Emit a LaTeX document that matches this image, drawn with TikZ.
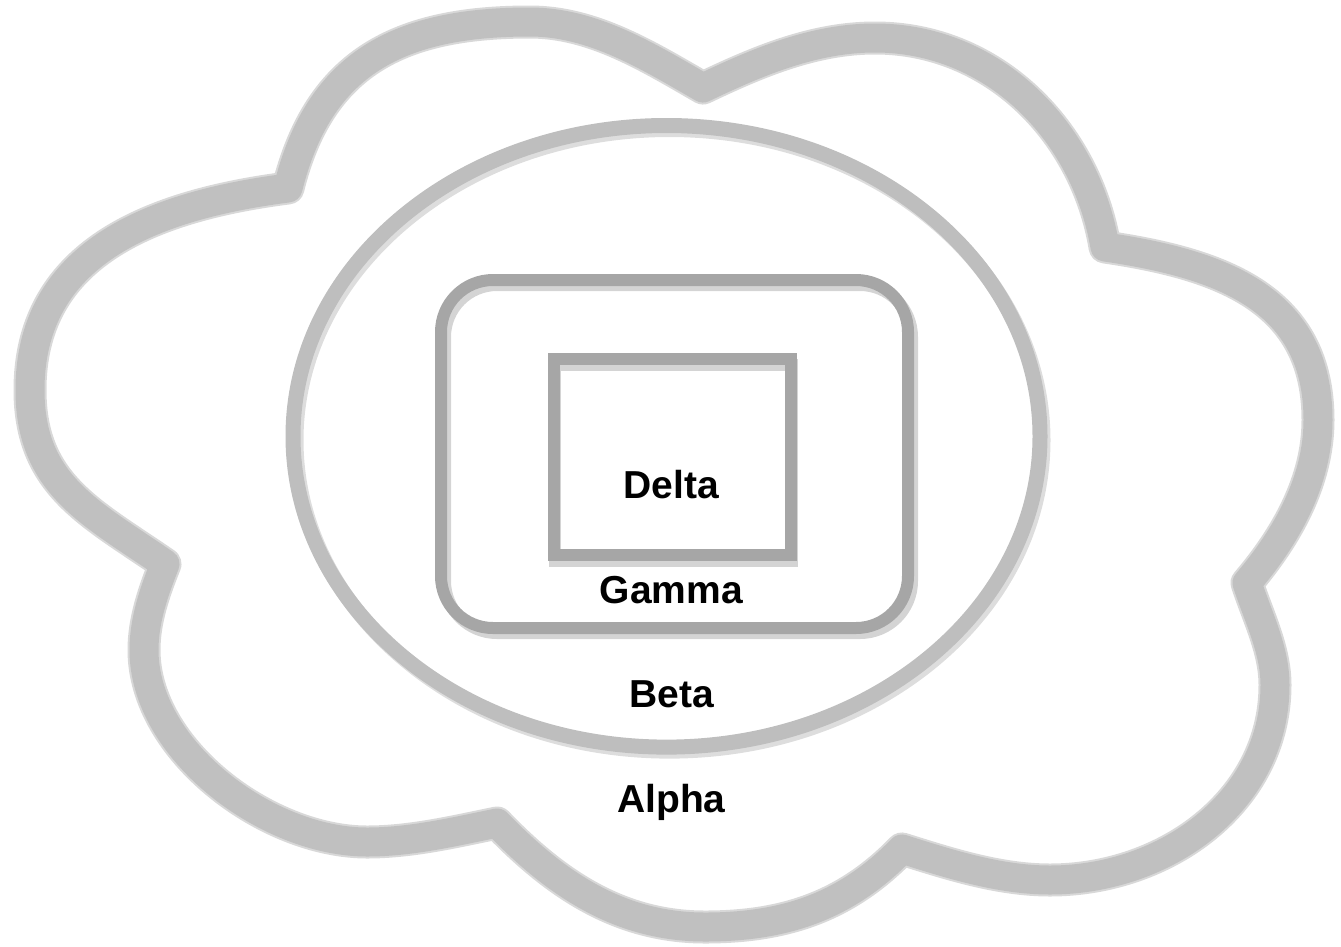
\documentclass[tikz,border=0pt]{standalone}
\usepackage{fontspec}
\setmainfont{Liberation Sans}
\definecolor{cloudgray}{HTML}{C0C0C0}
\definecolor{cloudsoft}{HTML}{D8D8D8}
\definecolor{ringgray}{HTML}{BEBEBE}
\definecolor{ringshade}{HTML}{DDDDDD}
\definecolor{boxgray}{HTML}{A6A6A6}
\definecolor{boxshade}{HTML}{D4D4D4}
\begin{document}
\begin{tikzpicture}[x=1pt, y=-1pt,
  cloudhalo/.style={draw=cloudsoft, line width=33pt, line join=round},
  cloudline/.style={draw=cloudgray, line width=29pt, line join=round},
  ringline/.style={draw=ringgray, line width=15pt},
  ringshadow/.style={draw=ringshade, line width=15pt},
  boxline/.style={draw=boxgray, line width=12pt},
  boxshadow/.style={draw=boxshade, line width=12pt},
  tag/.style={inner sep=0pt, anchor=base, font=\fontsize{39}{41}\selectfont\bfseries}]
\useasboundingbox (0,0) rectangle (1341,946);

% cloud outline: seven lobes meeting at sharp notches
\foreach \st in {cloudhalo, cloudline}
  \draw[\st] (288,188)
    .. controls (319.4,61.9) and (400,22) .. (530,22)
    .. controls (593,22) and (648.4,56.5) .. (703,88)
    .. controls (758,61.7) and (814,38) .. (875,38)
    .. controls (993,38) and (1085.5,130.7) .. (1105,247)
    .. controls (1223.7,264.3) and (1318,300) .. (1318,420)
    .. controls (1318,481) and (1286.5,536.5) .. (1247,583)
    .. controls (1258,616.8) and (1275,649.5) .. (1275,685)
    .. controls (1275,801) and (1166,880) .. (1050,880)
    .. controls (999.4,880) and (950.3,864.2) .. (902,849)
    .. controls (846.3,906.4) and (785,927) .. (705,927)
    .. controls (620,927) and (556,884.3) .. (497,823)
    .. controls (453.9,831.8) and (411,842) .. (367,842)
    .. controls (267,842) and (144,750) .. (144,650)
    .. controls (144,620.2) and (154,591.7) .. (165,564)
    .. controls (91,512.8) and (30,485) .. (30,390)
    .. controls (30,260) and (139.2,207) .. (288,188)
    -- cycle;

% ellipse with its soft shadow
\draw[ringshadow] (669.5,440.3) ellipse [x radius=373.5pt, y radius=310.8pt];
\draw[ringline] (666.5,436.3) ellipse [x radius=373.5pt, y radius=310.8pt];

% rounded box
\draw[boxshadow, rounded corners=52pt] (445,285) rectangle (912,633);
\draw[boxline, rounded corners=52pt] (441,280) rectangle (908,628);

% inner square box
\draw[boxshadow] (554.5,364.5) rectangle (792,560.5);
\draw[boxline] (553.5,359) rectangle (791,555);

% labels
\node[tag] (delta) at (671.5,498) {Delta};
\node[tag] (gamma) at (671.5,603) {Gamma};
\node[tag] (beta) at (671.5,707) {Beta};
\node[tag] (alpha) at (671.5,812) {Alpha};
\end{tikzpicture}
\end{document}
